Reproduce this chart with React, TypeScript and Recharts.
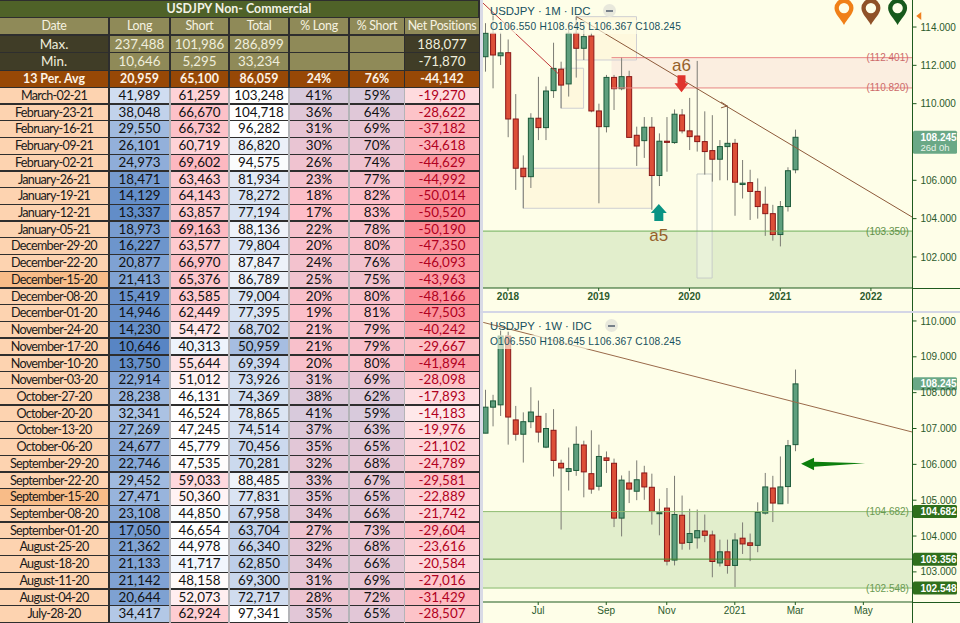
import React from "react";
import { ComposedChart, Bar, XAxis, YAxis, ReferenceArea, ReferenceLine, ReferenceDot } from "recharts";

const tableTitle = "USDJPY Non- Commercial";
const tableHeaders = ["Date", "Long", "Short", "Total", "% Long", "% Short", "Net Positions"];
const maxRow = ["Max.", "237,488", "101,986", "286,899", "", "", "188,077"];
const minRow = ["Min.", "10,646", "5,295", "33,234", "", "", "-71,870"];
const avgRow = ["13 Per. Avg", "20,959", "65,100", "86,059", "24%", "76%", "-44,142"];
const dates = ["March-02-21","February-23-21","February-16-21","February-09-21","February-02-21","January-26-21","January-19-21","January-12-21","January-05-21","December-29-20","December-22-20","December-15-20","December-08-20","December-01-20","November-24-20","November-17-20","November-10-20","November-03-20","October-27-20","October-20-20","October-13-20","October-06-20","September-29-20","September-22-20","September-15-20","September-08-20","September-01-20","August-25-20","August-18-20","August-11-20","August-04-20","July-28-20"];
const longs = [41989,38048,29550,26101,24973,18471,14129,13337,18973,16227,20877,21413,15419,14946,14230,10646,13750,22914,28238,32341,27269,24677,22746,29452,27471,23108,17050,21362,21133,21142,20644,34417];
const shorts = [61259,66670,66732,60719,69602,63463,64143,63857,69163,63577,66970,65376,63585,62449,54472,40313,55644,51012,46131,46524,47245,45779,47535,59033,50360,44850,46654,44978,41717,48158,52073,62924];
const totals = [103248,104718,96282,86820,94575,81934,78272,77194,88136,79804,87847,86789,79004,77395,68702,50959,69394,73926,74369,78865,74514,70456,70281,88485,77831,67958,63704,66340,62850,69300,72717,97341];
const pctLong = [41,36,31,30,26,23,18,17,22,20,24,25,20,19,21,21,20,31,38,41,37,35,32,33,35,34,27,32,34,31,28,35];
const pctShort = [59,64,69,70,74,77,82,83,78,80,76,75,80,81,79,79,80,69,62,59,63,65,68,67,65,66,73,68,66,69,72,65];
const nets = [-19270,-28622,-37182,-34618,-44629,-44992,-50014,-50520,-50190,-47350,-46093,-43963,-48166,-47503,-40242,-29667,-41894,-28098,-17893,-14183,-19976,-21102,-24789,-29581,-22889,-21742,-29604,-23616,-20584,-27016,-31429,-28507];

const monthlyOpen = [112.45,113.67,112.5,112.66,109.2,106.63,106.19,109.24,108.75,110.68,111.8,111.03,113.67,112.89,113.53,109.62,108.8,111.37,110.78,111.41,108.35,108.07,108.77,106.25,108.04,107.97,109.41,108.58,108.31,108.02,107.55,107.1,107.76,107.93,105.78,105.88,105.42,104.75,104.26,103.17,104.63,106.55];
const monthlyHigh = [114.2,114.6,113.7,113.35,110.5,107.3,109.5,111.4,110.9,113.18,112.19,113.9,114.55,114.2,113.7,110.0,111.5,111.5,112.42,111.72,108.8,109.3,109.3,108.45,109.3,109.7,109.72,110.3,112.23,109.6,109.4,108.1,109.9,108.16,107.06,106.55,106.1,105.67,104.72,104.92,106.68,108.645];
const monthlyLow = [111.67,110.8,112.02,108.25,105.5,104.54,105.6,108.1,108.1,110.3,109.76,110.37,111.36,112.28,109.55,104.8,108.5,109.67,110.7,108.24,106.75,107.17,104.46,105.7,106.45,107.9,108.45,107.58,107.5,106.3,105.93,106.0,106.0,104.15,105.05,103.93,104.0,103.1,102.85,102.55,104.37,106.367];
const monthlyClose = [113.67,112.54,112.65,109.2,106.63,106.19,109.24,108.75,110.66,111.84,110.97,113.67,112.89,113.5,109.62,108.8,111.37,110.78,111.41,108.24,107.79,108.77,106.25,108.04,107.98,109.45,108.58,108.28,108.02,107.5,107.1,107.76,107.93,105.9,105.85,105.42,104.63,104.26,103.17,104.63,106.5,108.245];

const weeklyOpen = [106.87,107.595,107.66,109.58,107.24,106.84,107.19,107.34,106.48,106.95,106.03,105.8,105.83,106.54,105.74,105.39,106.18,106.03,104.5,105.48,105.25,105.76,105.36,104.63,104.78,103.33,104.58,103.82,103.95,104.14,104.03,103.25,103.56,103.18,103.94,103.81,103.74,104.64,105.34,104.9,105.38,106.55];
const weeklyHigh = [108.08,107.94,109.73,109.7,107.63,107.45,108.15,107.78,107.43,107.54,106.13,106.47,107.06,106.66,106.95,106.55,106.36,106.16,105.69,105.82,106.11,105.96,105.74,105.04,105.34,105.68,105.13,104.76,104.74,104.6,104.15,103.9,103.9,104.08,104.38,104.07,104.94,105.76,105.68,106.22,106.68,108.645];
const weeklyLow = [106.87,107.06,107.35,106.55,106.66,106.05,107.01,106.61,106.45,105.66,104.18,105.27,105.68,105.08,105.18,105.27,105.76,104.25,103.99,104.92,105.0,105.01,104.32,104.02,103.18,103.18,103.62,103.62,103.65,103.83,102.85,103.15,102.95,102.57,103.5,103.3,103.55,104.6,104.39,104.9,104.9,106.367];
const weeklyClose = [107.595,107.77,109.58,107.32,106.84,107.19,107.46,106.9,107.0,106.11,105.9,105.88,106.56,105.79,105.31,106.22,106.11,104.5,105.56,105.31,105.57,105.37,104.69,104.65,103.3,104.6,103.8,104.07,104.15,104.02,103.29,103.56,103.18,103.89,103.78,103.74,104.66,105.37,104.92,105.37,106.52,108.245];

const monthlyTicks = [3, 15, 27, 39, 51];
const monthlyTickLabels = ["2018", "2019", "2020", "2021", "2022"];
const weeklyTicks = [7, 16, 24, 33, 41, 50];
const weeklyTickLabels = ["Jul", "Sep", "Nov", "2021", "Mar", "May"];
const monthlyPriceTicks = [102, 104, 106, 110, 112, 114];
const weeklyPriceTicks = [103, 104, 105, 106, 107, 108, 109, 110];

const toRows = (o: number[], h: number[], l: number[], c: number[]) => o.map((v, i) => ({ idx: i, o: v, h: h[i], l: l[i], c: c[i] }));
const monthlyRows = toRows(monthlyOpen, monthlyHigh, monthlyLow, monthlyClose);
const weeklyRows = toRows(weeklyOpen, weeklyHigh, weeklyLow, weeklyClose);

const GREEN = "#1f5a1f";
const BG = "#fefee8";
const mix = (a: number[], b: number[], t: number) => {
  const k = Math.max(0, Math.min(1, t));
  return `rgb(${a.map((v, i) => Math.round(v + (b[i] - v) * k)).join(",")})`;
};
const scale3 = (v: number, lo: number, mid: number, hi: number, c0: number[], c1: number[], c2: number[]) =>
  v < mid ? mix(c0, c1, (v - lo) / (mid - lo)) : mix(c1, c2, (v - mid) / (hi - mid));
const WHITE = [255, 255, 255];
const cellColors = [
  (v: number) => mix([88, 133, 196], [208, 221, 241], (v - 10646) / (41989 - 10646)),
  (v: number) => scale3(v, 40313, 46500, 69602, [238, 244, 252], WHITE, [253, 184, 192]),
  (v: number) => scale3(v, 50959, 97000, 104718, [166, 189, 225], WHITE, WHITE),
  (v: number) => mix([254, 190, 200], [216, 202, 220], (v - 17) / 24),
  (v: number) => mix([216, 202, 220], [254, 190, 200], (v - 59) / 24),
  (v: number) => mix([251, 138, 148], [254, 232, 234], (v + 50520) / 36337),
];

const colX = [0, 110, 171, 230, 290, 350, 405];
const colW = [108, 59, 57, 58, 58, 54, 74];
const gapX = [169, 228, 288, 348, 404];
const TABLE_FONT = "Lato, 'Noto Sans', sans-serif";
const FS = 13.4;

function Cell({ col, top, h, bg, color, text, bold, size, spacing }: any) {
  return (
    <div style={{ position: "absolute", left: colX[col], top, width: colW[col], height: h, background: bg, color, fontWeight: bold ? 700 : 400, fontSize: size || FS, letterSpacing: spacing || 0, lineHeight: h + "px", textAlign: "center", whiteSpace: "nowrap", overflow: "hidden" }}>{text}</div>
  );
}
function HeadRow({ top, h, values, bgs, color, bold, size, spacing }: any) {
  return values.map((t: string, i: number) => <Cell key={i} col={i} top={top} h={h} bg={bgs[i]} color={color} text={t} bold={bold} size={size} spacing={spacing} />);
}
const fmt = (v: number) => v.toLocaleString("en-US");

function Table() {
  const tan = "#8f8a58", dark = "#403d27";
  return (
    <div style={{ position: "absolute", left: 0, top: 0, width: 480, height: 623, background: "#2e2e2e", fontFamily: TABLE_FONT, overflow: "hidden" }}>
      {gapX.map((x) => <div key={x} style={{ position: "absolute", left: x, top: 88, width: x === 404 ? 1 : 2, height: 535, background: "#b4b4b8" }} />)}
      <div style={{ position: "absolute", left: 0, top: 1, width: 478, height: 16, background: "#4f6228", color: "#f2f2e6", fontWeight: 700, fontSize: 12.4, lineHeight: "16px", textAlign: "center" }}>{tableTitle}</div>
      <HeadRow top={18} h={16} values={tableHeaders} bgs={Array(7).fill(tan)} color="#f6f2e0" size={12.4} spacing={-0.3} />
      <HeadRow top={36} h={16} values={maxRow} bgs={[dark, tan, tan, tan, tan, tan, dark]} color="#f0eedc" />
      <HeadRow top={53} h={17} values={minRow} bgs={[dark, tan, tan, tan, tan, tan, dark]} color="#f0eedc" />
      <HeadRow top={71} h={16} values={avgRow} bgs={Array(7).fill("#974806")} color="#fdf3e6" bold size={12.4} />
      {dates.map((d, r) => {
        const top = 88 + r * 16.72;
        const h = 15.4;
        const dateBg = d === "December-15-20" || d === "September-15-20" ? "#f8bc88" : "#fdd3b0";
        return (
          <React.Fragment key={d}>
            <Cell col={0} top={top} h={h} bg={dateBg} color="#1a1a1a" text={d} size={12.6} spacing={-0.7} />
            <Cell col={1} top={top} h={h} bg={cellColors[0](longs[r])} color="#111" text={fmt(longs[r])} />
            <Cell col={2} top={top} h={h} bg={cellColors[1](shorts[r])} color="#111" text={fmt(shorts[r])} />
            <Cell col={3} top={top} h={h} bg={cellColors[2](totals[r])} color="#111" text={fmt(totals[r])} />
            <Cell col={4} top={top} h={h} bg={cellColors[3](pctLong[r])} color="#111" text={pctLong[r] + "%"} />
            <Cell col={5} top={top} h={h} bg={cellColors[4](pctShort[r])} color="#111" text={pctShort[r] + "%"} />
            <Cell col={6} top={top} h={h} bg={cellColors[5](nets[r])} color="#b00020" text={fmt(nets[r])} />
          </React.Fragment>
        );
      })}
    </div>
  );
}

function Candle(props: any) {
  const { x, y, width, height, payload } = props;
  if (!payload || !isFinite(y) || !isFinite(height)) return null;
  const ppu = height / (payload.h - payload.l);
  const cx = x + width / 2;
  const up = payload.c >= payload.o;
  const top = y + (payload.h - Math.max(payload.o, payload.c)) * ppu;
  const bh = Math.max(1, Math.abs(payload.o - payload.c) * ppu);
  return (
    <g>
      <line x1={cx} x2={cx} y1={y} y2={y + height} stroke="#7c7c74" strokeWidth={1} />
      <rect x={x + 0.5} y={top} width={width - 1} height={bh} fill={up ? "#5f9f7e" : "#dd4f38"} stroke={up ? "#1c5a3a" : "#8a1616"} strokeWidth={1} />
    </g>
  );
}

const priceLabel = (text: string, color: string) => ({ viewBox }: any) => (
  <text x={viewBox.x + viewBox.width - 25} y={viewBox.y + 3.5} textAnchor="middle" fontSize={10} fontFamily="'Liberation Sans', Arial" fill={color}>{text}</text>
);
const axisTag = (text: string, fill: string, sub?: string, lineText?: string, lineColor?: string) => ({ viewBox }: any) => {
  const right = viewBox.x + viewBox.width;
  const h = sub ? 23 : 13;
  const y = viewBox.y - 6.5;
  return (
    <g fontFamily="'Liberation Sans', Arial" fontWeight={700}>
      {lineText && <text x={right - 25} y={viewBox.y + 3.5} textAnchor="middle" fontSize={10} fontWeight={400} fill={lineColor}>{lineText}</text>}
      <rect x={right + 0.5} y={y} width={44} height={h} rx={1.5} fill={fill} />
      <text x={right + 8} y={y + 10} fontSize={10} fill="#ffffff">{text}</text>
      {sub && <text x={right + 8} y={y + 20.5} fontSize={9.5} fontWeight={400} fill="#e8f2e8">{sub}</text>}
    </g>
  );
};
const Pin = (color: string) => ({ cx, cy }: any) => (
  <g>
    <path d={`M${cx} ${cy} C${cx - 3} ${cy - 6} ${cx - 9.5} ${cy - 11} ${cx - 9.5} ${cy - 17} A9.5 9.5 0 1 1 ${cx + 9.5} ${cy - 17} C${cx + 9.5} ${cy - 11} ${cx + 3} ${cy - 6} ${cx} ${cy} Z`} fill={color} />
    <circle cx={cx} cy={cy - 17} r={5.2} fill={BG} />
  </g>
);
const ArrowDown = ({ cx, cy }: any) => (
  <g>
    <polygon points={`${cx},${cy + 9} ${cx - 7},${cy} ${cx - 4},${cy} ${cx - 4},${cy - 8} ${cx + 4},${cy - 8} ${cx + 4},${cy} ${cx + 7},${cy}`} fill="#e0332d" />
    <text x={cx} y={cy - 12} textAnchor="middle" fontSize={17} fontFamily="'Liberation Sans', Arial" fill="#95602a">a6</text>
  </g>
);
const ArrowUp = ({ cx, cy }: any) => (
  <g>
    <polygon points={`${cx},${cy - 9} ${cx - 8},${cy} ${cx - 4.5},${cy} ${cx - 4.5},${cy + 8} ${cx + 4.5},${cy + 8} ${cx + 4.5},${cy} ${cx + 8},${cy}`} fill="#0a9484" />
    <text x={cx} y={cy + 28} textAnchor="middle" fontSize={17} fontFamily="'Liberation Sans', Arial" fill="#95602a">a5</text>
  </g>
);
const ArrowLeft = ({ cx, cy }: any) => (
  <polygon points={`${cx},${cy} ${cx + 13},${cy - 6} ${cx + 13},${cy - 2} ${cx + 64},${cy - 0.5} ${cx + 13},${cy + 3} ${cx + 13},${cy + 6.5}`} fill="#0d7f0d" />
);
const LeftMark = ({ cx, cy }: any) => <polygon points={`${cx},${cy} ${cx + 5},${cy - 4} ${cx + 5},${cy + 4}`} fill="#f08020" />;

function Heading({ top, tf }: { top: number; tf: string }) {
  return (
    <div style={{ position: "absolute", left: 490, top, color: "#17505e", fontFamily: "'Liberation Sans', Arial", whiteSpace: "nowrap" }}>
      <div style={{ fontSize: 11.4, height: 17, lineHeight: "17px" }}>USDJPY · {tf} · IDC<span style={{ display: "inline-block", marginLeft: 13, width: 13, height: 13, borderRadius: 7, background: "#e8e8dc", verticalAlign: -2, position: "relative" }}><span style={{ position: "absolute", left: 3, top: 5.5, width: 7, height: 2, background: "#77808a" }} /></span></div>
      <div style={{ fontSize: 10.2, height: 14, lineHeight: "14px", letterSpacing: 0.2, background: "rgba(254,254,232,0.65)" }}>O106.550 H108.645 L106.367 C108.245</div>
    </div>
  );
}

const axisProps = { stroke: GREEN, tickLine: { stroke: GREEN } };
const yTick = { fill: "#2c5a2c", fontSize: 10, fontFamily: "'Liberation Sans', Arial" };
const boxProps = { fill: "#fdf3d4", fillOpacity: 0.55, stroke: "#cfcfd2", strokeWidth: 1, ifOverflow: "visible" as const };

function MonthlyChart() {
  return (
    <ComposedChart width={480} height={310} data={monthlyRows} margin={{ top: 0, right: 0, bottom: 0, left: 1.5 }}>
      <XAxis dataKey="idx" type="number" domain={[-0.5, 56.5]} ticks={monthlyTicks} tickFormatter={(v: number) => monthlyTickLabels[monthlyTicks.indexOf(v)]} height={22} tickSize={3} tickMargin={2} {...axisProps} tick={{ fill: "#2c5a2c", fontSize: 10, fontWeight: 700, fontFamily: "'Liberation Sans', Arial" }} />
      <YAxis orientation="right" width={47.5} domain={[100.38, 115.41]} ticks={monthlyPriceTicks} tickFormatter={(v: number) => v.toFixed(3)} tickSize={4} tickMargin={4} allowDataOverflow {...axisProps} tick={yTick} />
      <ReferenceArea y1={100.38} y2={103.35} fill="#e2eecc" fillOpacity={1} stroke="none" />
      <ReferenceArea x1={16.7} x2={56.5} y1={110.82} y2={112.401} fill="#fbeee0" fillOpacity={1} stroke="none" />
      <Bar dataKey={(d: any) => [d.l, d.h]} barSize={6} shape={Candle} isAnimationActive={false} />
      <ReferenceArea x1={12} x2={20} y1={112.28} y2={114.54} {...boxProps} />
      <ReferenceArea x1={10} x2={13} y1={109.76} y2={111.85} {...boxProps} />
      <ReferenceArea x1={5} x2={22} y1={104.54} y2={106.63} {...boxProps} />
      <ReferenceArea x1={28} x2={30} y1={100.9} y2={106.33} fill="#ffffff" fillOpacity={0.25} stroke="#c8cdc8" strokeWidth={1} />
      <ReferenceLine y={103.35} stroke="#6fae5a" strokeWidth={1} label={priceLabel("(103.350)", "#5f9048")} />
      <ReferenceLine segment={[{ x: 16.7, y: 112.401 }, { x: 56.5, y: 112.401 }]} stroke="#e88484" strokeWidth={1} />
      <ReferenceLine segment={[{ x: 16.7, y: 110.82 }, { x: 56.5, y: 110.82 }]} stroke="#e88484" strokeWidth={1} />
      <ReferenceLine y={112.401} stroke="none" label={priceLabel("(112.401)", "#cc6a6a")} />
      <ReferenceLine y={110.82} stroke="none" label={priceLabel("(110.820)", "#cc6a6a")} />
      <ReferenceLine segment={[{ x: -0.44, y: 115.3 }, { x: 9.83, y: 111.5 }]} stroke="#c0393a" strokeWidth={1} ifOverflow="visible" />
      <ReferenceLine segment={[{ x: 12.08, y: 114.54 }, { x: 56.5, y: 104.07 }]} stroke="#8d5a3a" strokeWidth={1} ifOverflow="visible" />
      <ReferenceLine segment={[{ x: 31.17, y: 110.09 }, { x: 32, y: 109.88 }]} stroke="#8d5a3a" strokeWidth={1} ifOverflow="visible" />
      <ReferenceLine segment={[{ x: 31.17, y: 109.78 }, { x: 32, y: 109.88 }]} stroke="#8d5a3a" strokeWidth={1} ifOverflow="visible" />
      <ReferenceLine y={108.245} stroke="none" label={axisTag("108.245", "#6aa886", "26d 0h")} />
      <ReferenceDot x={47.44} y={114.1} r={1} shape={Pin("#f08018")} ifOverflow="visible" />
      <ReferenceDot x={51} y={114.1} r={1} shape={Pin("#8f5128")} ifOverflow="visible" />
      <ReferenceDot x={54.53} y={114.1} r={1} shape={Pin("#17591c")} ifOverflow="visible" />
      <ReferenceDot x={57} y={114.58} r={1} shape={LeftMark} ifOverflow="visible" />
      <ReferenceDot x={25.95} y={111.06} r={1} shape={ArrowDown} ifOverflow="visible" />
      <ReferenceDot x={22.95} y={104.3} r={1} shape={ArrowUp} ifOverflow="visible" />
    </ComposedChart>
  );
}

function WeeklyChart() {
  return (
    <ComposedChart width={480} height={311} data={weeklyRows} margin={{ top: 0, right: 0, bottom: 0, left: 1.5 }}>
      <XAxis dataKey="idx" type="number" domain={[-0.5, 56.5]} ticks={weeklyTicks} tickFormatter={(v: number) => weeklyTickLabels[weeklyTicks.indexOf(v)]} height={21} tickSize={3} tickMargin={2} {...axisProps} tick={{ fill: "#2c5a2c", fontSize: 10, fontFamily: "'Liberation Sans', Arial" }} />
      <YAxis orientation="right" width={47.5} domain={[102.16, 110.25]} ticks={weeklyPriceTicks} tickFormatter={(v: number) => v.toFixed(3)} tickSize={4} tickMargin={4} allowDataOverflow {...axisProps} tick={yTick} />
      <ReferenceArea y1={102.548} y2={104.682} fill="#e2eecc" fillOpacity={1} stroke="none" />
      <Bar dataKey={(d: any) => [d.l, d.h]} barSize={6} shape={Candle} isAnimationActive={false} />
      <ReferenceLine y={104.682} stroke="#8fbb72" strokeWidth={1} label={axisTag("104.682", "#2f6f1c", undefined, "(104.682)", "#6a9a52")} />
      <ReferenceLine y={103.356} stroke="#4a8a30" strokeWidth={1} label={axisTag("103.356", "#2f6f1c")} />
      <ReferenceLine y={102.548} stroke="#a8cc90" strokeWidth={1.5} label={axisTag("102.548", "#2f6f1c", undefined, "(102.548)", "#6a9a52")} />
      <ReferenceLine segment={[{ x: -0.27, y: 109.96 }, { x: 56.5, y: 106.9 }]} stroke="#9a6a4a" strokeWidth={1} ifOverflow="visible" />
      <ReferenceLine y={108.245} stroke="none" label={axisTag("108.245", "#6aa886")} />
      <ReferenceDot x={41.76} y={106.02} r={1} shape={ArrowLeft} ifOverflow="visible" />
    </ComposedChart>
  );
}

export default function App() {
  return (
    <div style={{ position: "absolute", left: 0, top: 0, width: 960, height: 623, background: "#ffffff", overflow: "hidden" }}>
      <Table />
      <div style={{ position: "absolute", left: 480, top: 0, width: 480, height: 623, background: BG }} />
      <div style={{ position: "absolute", left: 480, top: 0 }}><MonthlyChart /></div>
      <div style={{ position: "absolute", left: 480, top: 312 }}><WeeklyChart /></div>
      <div style={{ position: "absolute", left: 480, top: 0, width: 3, height: 623, background: "#d9dae6" }} />
      <div style={{ position: "absolute", left: 480, top: 311, width: 480, height: 1.5, background: "#d4d6e6" }} />
      <div style={{ position: "absolute", left: 912, top: 288, width: 48, height: 1, background: GREEN }} />
      <div style={{ position: "absolute", left: 912, top: 602, width: 48, height: 1, background: GREEN }} />
      <div style={{ position: "absolute", left: 912, top: 288, width: 1, height: 23, background: GREEN }} />
      <div style={{ position: "absolute", left: 912, top: 602, width: 1, height: 21, background: GREEN }} />
      <Heading top={3} tf="1M" />
      <Heading top={318} tf="1W" />
    </div>
  );
}
